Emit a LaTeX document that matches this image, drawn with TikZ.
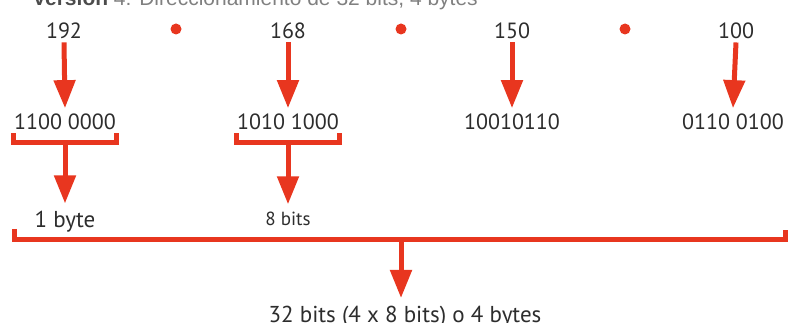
\documentclass[tikz,border=0pt]{standalone}
\usepackage{fontspec}
\setmainfont{PT Sans}
\newfontfamily\titlefont{Liberation Sans}
\usetikzlibrary{arrows.meta, positioning, calc}

\definecolor{ipred}{RGB}{232,54,31}
\definecolor{iptext}{RGB}{45,45,45}

\begin{document}
\begin{tikzpicture}[
    x=1pt, y=-1pt,
    num/.style={
        inner sep=0pt, text=iptext,
        font=\fontsize{22}{26}\selectfont
    },
    word/.style={
        inner sep=0pt, text=iptext,
        font=\fontsize{23}{27}\selectfont
    },
    small/.style={
        inner sep=0pt, text=iptext,
        font=\fontsize{19}{23}\selectfont
    },
    arrow/.style={-{Triangle[length=28pt, width=21pt]}, line width=5pt, draw=ipred},
    bracket/.style={line width=5pt, draw=ipred, line join=miter},
    sep/.style={circle, fill=ipred, inner sep=0pt, minimum size=11pt}
]
\useasboundingbox (0,0) rectangle (790,323);

% Title (cut at the top of the picture)
\node[anchor=base east, inner sep=0pt, font=\titlefont\fontsize{21}{25}\selectfont, text=black!50]
    (title) at (478,6) {\textcolor{black!70}{\textbf{Versión}} 4: Direccionamiento de 32 bits, 4 bytes};

% Decimal octets
\node[num, anchor=base] (n192) at (64,39) {192};
\node[num, anchor=base] (n168) at (288,39) {168};
\node[num, anchor=base] (n150) at (512,39) {150};
\node[num, anchor=base] (n100) at (736,39) {100};

% Dots between octets
\node[sep] (d1) at (176,29) {};
\node[sep] (d2) at (401,29) {};
\node[sep] (d3) at (625,29) {};

% Binary octets
\node[num, anchor=base] (b192) at (65,130) {1100 0000};
\node[num, anchor=base] (b168) at (288,130) {1010 1000};
\node[num, anchor=base] (b150) at (512,130) {10010110};
\node[num, anchor=base] (b100) at (733,130) {0110 0100};

% Arrows: decimal -> binary
\draw[arrow] ([yshift=-3pt]n192.south) -- ([yshift=6pt]b192.north);
\draw[arrow] ([yshift=-3pt]n168.south) -- ([yshift=6pt]b168.north);
\draw[arrow] ([yshift=-3pt]n150.south) -- ([yshift=6pt]b150.north);
\draw[arrow] ([yshift=-3pt]n100.south) -- ([yshift=6pt]b100.north);

% Brackets under the first two octets
\draw[bracket] ([yshift=-3pt]b192.south west) -- ++(0,9) -| ([yshift=-3pt]b192.south east);
\draw[bracket] ([yshift=-3pt]b168.south west) -- ++(0,9) -| ([yshift=-3pt]b168.south east);
\coordinate (k192) at ($(b192.south)+(0,12)$);
\coordinate (k168) at ($(b168.south)+(0,12)$);

% Labels below the brackets
\node[word, anchor=base] (byte) at (65,228) {1 byte};
\node[small, anchor=base] (bits) at (288,226) {8 bits};

\draw[arrow] (k192) -- ([yshift=8pt]byte.north);
\draw[arrow] (k168) -- ([yshift=8pt]bits.north);

% Bracket over the four octets
\coordinate (bigL) at (14,229);
\coordinate (bigR) at (785,230);
\draw[bracket] (bigL) -- (bigL |- 0,240) -- (bigR |- 0,240) -- (bigR);
\coordinate (kall) at (401,240);

% Total
\node[word, anchor=base] (total) at (405,322) {32 bits (4 x 8 bits) o 4 bytes};
\draw[arrow] (kall) -- (kall |- 0,298);

\end{tikzpicture}
\end{document}
